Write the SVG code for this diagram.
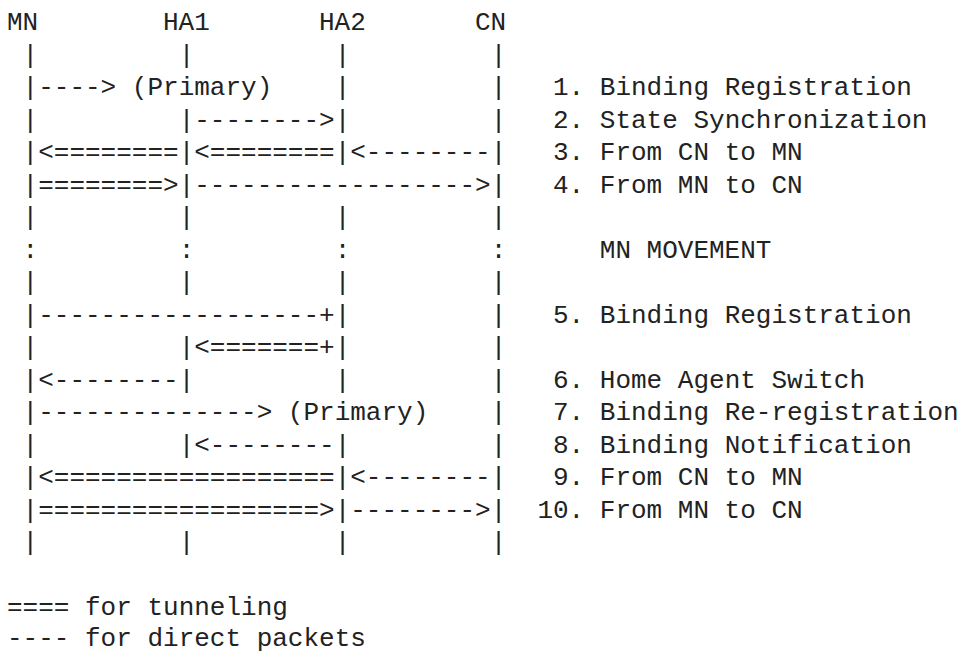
<svg xmlns="http://www.w3.org/2000/svg" width="960" height="652" viewBox="0 0 960 652">
<style>
.t{font-family:"Liberation Mono","DejaVu Sans Mono",monospace;font-size:26px;fill:#222;white-space:pre}
</style>
<rect width="960" height="652" fill="#fff"/>
<g id="MN"><text class="t" x="7" y="30">MN</text></g>
<g id="HA1"><text class="t" x="163" y="30">HA1</text></g>
<g id="HA2"><text class="t" x="319" y="30">HA2</text></g>
<g id="CN"><text class="t" x="475" y="30">CN</text></g>
<g id="connectors">
<text class="t" xml:space="preserve" x="7" y="62.5"> |         |         |         |</text>
<text class="t" xml:space="preserve" x="7" y="95"> |----&gt; (Primary)    |         |</text>
<text class="t" xml:space="preserve" x="7" y="127.5"> |         |--------&gt;|         |</text>
<text class="t" xml:space="preserve" x="7" y="160"> |&lt;========|&lt;========|&lt;--------|</text>
<text class="t" xml:space="preserve" x="7" y="192.5"> |========&gt;|------------------&gt;|</text>
<text class="t" xml:space="preserve" x="7" y="225"> |         |         |         |</text>
<text class="t" xml:space="preserve" x="7" y="257.5"> :         :         :         :</text>
<text class="t" xml:space="preserve" x="7" y="290"> |         |         |         |</text>
<text class="t" xml:space="preserve" x="7" y="322.5"> |------------------+|         |</text>
<text class="t" xml:space="preserve" x="7" y="355"> |         |&lt;=======+|         |</text>
<text class="t" xml:space="preserve" x="7" y="387.5"> |&lt;--------|         |         |</text>
<text class="t" xml:space="preserve" x="7" y="420"> |--------------&gt; (Primary)    |</text>
<text class="t" xml:space="preserve" x="7" y="452.5"> |         |&lt;--------|         |</text>
<text class="t" xml:space="preserve" x="7" y="485"> |&lt;==================|&lt;--------|</text>
<text class="t" xml:space="preserve" x="7" y="517.5"> |==================&gt;|--------&gt;|</text>
<text class="t" xml:space="preserve" x="7" y="550"> |         |         |         |</text>
</g>
<g id="labels">
<text class="t" x="553" y="95">1. Binding Registration</text>
<text class="t" x="553" y="127.5">2. State Synchronization</text>
<text class="t" x="553" y="160">3. From CN to MN</text>
<text class="t" x="553" y="192.5">4. From MN to CN</text>
<text class="t" x="599.8" y="257.5">MN MOVEMENT</text>
<text class="t" x="553" y="322.5">5. Binding Registration</text>
<text class="t" x="553" y="387.5">6. Home Agent Switch</text>
<text class="t" x="553" y="420">7. Binding Re-registration</text>
<text class="t" x="553" y="452.5">8. Binding Notification</text>
<text class="t" x="553" y="485">9. From CN to MN</text>
<text class="t" x="537.4" y="517.5">10. From MN to CN</text>
</g>
<g id="legend">
<text class="t" xml:space="preserve" x="7" y="614.5">==== for tunneling</text>
<text class="t" xml:space="preserve" x="7" y="645.5">---- for direct packets</text>
</g>
</svg>
